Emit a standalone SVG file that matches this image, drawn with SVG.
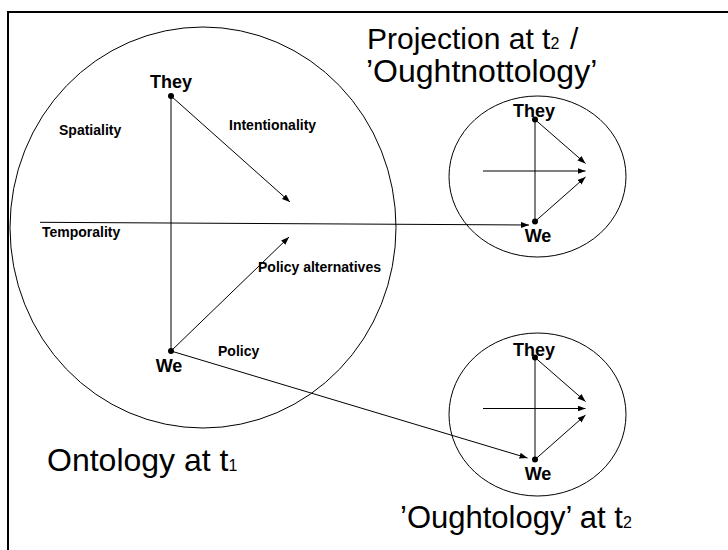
<svg xmlns="http://www.w3.org/2000/svg" width="728" height="550" viewBox="0 0 728 550">
<style>
  .shape { fill: none; stroke: #000; stroke-width: 1; }
  .conn { fill: none; stroke: #000; stroke-width: 1; }
  .dot { fill: #000; }
  .lbl { font-family: "Liberation Sans", Arial, sans-serif; font-weight: bold; font-size: 14px; fill: #000; }
  .node { font-family: "Liberation Sans", Arial, sans-serif; font-weight: bold; font-size: 18px; fill: #000; text-anchor: middle; }
  .title { font-family: "Liberation Sans", Arial, sans-serif; font-size: 31px; fill: #000; }
  .sub { font-size: 16px; }
</style>
<defs>
  <marker id="arrow" markerUnits="userSpaceOnUse" markerWidth="9" markerHeight="7" refX="8" refY="3" orient="auto">
    <path d="M0,0 L8,3 L0,6 z" fill="#000"/>
  </marker>
</defs>
<rect x="8" y="12" width="740" height="560" fill="none" stroke="#000" stroke-width="2"/>

<g id="ontology">
  <ellipse class="shape" cx="203" cy="227.5" rx="193" ry="200.5"/>
  <text class="node" x="171" y="88">They</text>
  <text class="node" x="169" y="372">We</text>
  <text class="lbl" x="59" y="135">Spatiality</text>
  <text class="lbl" x="229" y="130">Intentionality</text>
  <text class="lbl" x="42" y="237">Temporality</text>
  <text class="lbl" x="258" y="272">Policy alternatives</text>
  <text class="lbl" x="218" y="356">Policy</text>
  <text class="title" x="47" y="471" style="font-size:32px">Ontology at t<tspan class="sub">1</tspan></text>
</g>

<g id="projection">
  <ellipse class="shape" cx="537.5" cy="176.5" rx="88.5" ry="80.5"/>
  <text class="node" x="534" y="117">They</text>
  <text class="node" x="538" y="242">We</text>
  <text class="title" x="367" y="49" style="font-size:30px">Projection at t<tspan class="sub">2</tspan><tspan x="570">/</tspan></text>
  <text class="title" x="366" y="82" style="font-size:32px">’Oughtnottology’</text>
</g>

<g id="oughtology">
  <ellipse class="shape" cx="537.5" cy="414.5" rx="88.5" ry="81.5"/>
  <text class="node" x="534" y="356">They</text>
  <text class="node" x="538" y="480">We</text>
  <text class="title" x="400" y="528">’Oughtology’ at t<tspan class="sub">2</tspan></text>
</g>

<g id="connectors">
  <line class="conn" x1="171" y1="96" x2="171" y2="351"/>
  <line class="conn" x1="171" y1="96" x2="290" y2="202" marker-end="url(#arrow)"/>
  <line class="conn" x1="171" y1="351" x2="289" y2="237" marker-end="url(#arrow)"/>
  <line class="conn" x1="40" y1="222.3" x2="529" y2="225" marker-end="url(#arrow)"/>
  <line class="conn" x1="171" y1="351" x2="527.5" y2="458" marker-end="url(#arrow)"/>
  <circle class="dot" cx="171" cy="96" r="3"/>
  <circle class="dot" cx="171" cy="351" r="3"/>
  <line class="conn" x1="535" y1="119.5" x2="535" y2="221.5"/>
  <line class="conn" x1="535" y1="119.5" x2="585.5" y2="163.5" marker-end="url(#arrow)"/>
  <line class="conn" x1="483" y1="171" x2="585.5" y2="171" marker-end="url(#arrow)"/>
  <line class="conn" x1="535" y1="221.5" x2="585.5" y2="177" marker-end="url(#arrow)"/>
  <circle class="dot" cx="535" cy="119.5" r="3"/>
  <circle class="dot" cx="535" cy="221.5" r="3"/>
  <line class="conn" x1="535" y1="357.5" x2="535" y2="459.5"/>
  <line class="conn" x1="535" y1="357.5" x2="585.5" y2="401.5" marker-end="url(#arrow)"/>
  <line class="conn" x1="483" y1="408.5" x2="585.5" y2="408.5" marker-end="url(#arrow)"/>
  <line class="conn" x1="535" y1="459.5" x2="585.5" y2="415" marker-end="url(#arrow)"/>
  <circle class="dot" cx="535" cy="357.5" r="3"/>
  <circle class="dot" cx="535" cy="459.5" r="3"/>
</g>
</svg>
